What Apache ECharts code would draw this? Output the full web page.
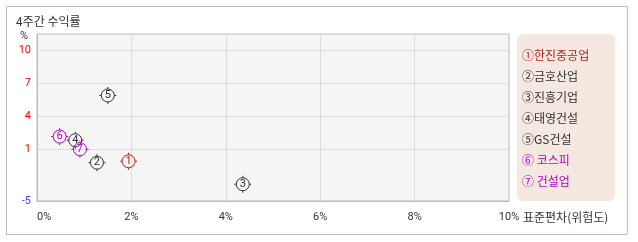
<!DOCTYPE html>
<html><head><meta charset="utf-8">
<script src="https://cdn.jsdelivr.net/npm/echarts@6/dist/echarts.min.js"></script>
<style>html,body{margin:0;padding:0;background:#fff}#c{width:638px;height:242px}</style>
</head><body><div id="c"></div>
<script>
const seriesNames = ['①한진중공업','②금호산업','③진흥기업','④태영건설','⑤GS건설','⑥ 코스피','⑦ 건설업'];
const markNums = ['1','2','3','4','5','6','7'];
const riskValues = [1.94, 1.27, 4.36, 0.81, 1.50, 0.48, 0.91];
const returnValues = [-0.12, -0.25, -2.21, 1.79, 5.85, 2.12, 0.97];
const seriesColors = ['#b0231c','#333333','#333333','#333333','#333333','#b400c8','#b400c8'];
const yMin = -3.73, yMax = 11.43;
const yTickValues = [yMin, 1, 4, 7, 10];
const yTickLabels = ['-5', '1', '4', '7', '10'];
const xTickLabels = ['0%','2%','4%','6%','8%','10%'];

const FONT = 'Roboto, "Noto Sans", sans-serif';
const KFONT = '"Noto Sans CJK KR", sans-serif';
const markerPath = 'path://M0,-6.5A6.5,6.5 0 1,1 0,6.5A6.5,6.5 0 1,1 0,-6.5Z M0,-8.5L0,-6.5 M0,6.5L0,8.5 M-8.5,0L-6.5,0 M6.5,0L8.5,0';

const chart = echarts.init(document.getElementById('c'), null, {renderer:'canvas'});
chart.setOption({
  animation: false,
  backgroundColor: '#fff',
  title: {text: '4주간 수익률', left: 16, top: 14, padding: 0,
    textStyle: {fontFamily: KFONT, fontSize: 12, fontWeight: 'normal', color: '#333', lineHeight: 14}},
  graphic: [{type:'rect', silent:true, shape:{x:6.5, y:6.5, width:621, height:228},
    style:{fill:'none', stroke:'#bdbdbd', lineWidth:1}, z:-1}],
  legend: {
    orient: 'vertical', left: 517, top: 34, icon: 'none', itemWidth: 0, itemHeight: 12, itemGap: 9,
    padding: [15, 26, 14, 0], backgroundColor: '#f5e8e1', borderRadius: 6,
    selectedMode: false,
    textStyle: {fontFamily: KFONT, fontSize: 12, lineHeight: 12},
    data: seriesNames.map((n, i) => ({name: n, textStyle: {color: seriesColors[i]}}))
  },
  grid: {left: 37, top: 34, width: 472, height: 167, show: true, backgroundColor: '#f5f5f5',
    borderColor: '#bbbbbb', borderWidth: 1, containLabel: false},
  xAxis: {
    type: 'value', min: 0, max: 10, interval: 2,
    axisLine: {show: true, onZero: false, lineStyle: {color: '#bbbbbb'}}, axisTick: {show: false},
    splitLine: {show: true, lineStyle: {color: '#dcdcdc'}},
    axisLabel: {margin: 11, fontFamily: FONT, fontSize: 11, color: '#333', alignMinLabel: 'left',
      formatter: (v) => xTickLabels[Math.round(v / 2)]},
    name: '표준편차(위험도)', nameLocation: 'end', nameGap: 14, nameMoveOverlap: false,
    nameTextStyle: {fontFamily: KFONT, fontSize: 12, color: '#333', verticalAlign: 'top', lineHeight: 32, align: 'left'}
  },
  yAxis: {
    type: 'value', min: yMin, max: yMax,
    axisLine: {show: true, onZero: false, lineStyle: {color: '#bbbbbb'}},
    axisTick: {show: false, customValues: [1, 4, 7, 10]},
    splitLine: {show: true, lineStyle: {color: '#dcdcdc'}},
    axisLabel: {customValues: yTickValues, margin: 6, fontFamily: FONT, fontSize: 11,
      formatter: (v) => yTickLabels[yTickValues.indexOf(v)],
      color: (v) => (v < 0 ? '#4444ff' : '#ff0000')},
    name: '%', nameLocation: 'end', nameGap: -2, nameMoveOverlap: false,
    nameTextStyle: {fontFamily: FONT, fontSize: 11, color: '#333', align: 'right', verticalAlign: 'middle', padding: [0, 9, 0, 0]}
  },
  series: seriesNames.map((n, i) => ({
    type: 'scatter', name: n, symbol: markerPath, symbolSize: 17,
    data: [[riskValues[i], returnValues[i]]],
    itemStyle: {color: 'rgba(0,0,0,0)', borderColor: seriesColors[i], borderWidth: 1, opacity: 1},
    label: {show: true, position: 'inside', formatter: markNums[i], color: seriesColors[i],
      fontFamily: FONT, fontSize: 11},
    emphasis: {disabled: true}, z: 2 + i
  }))
});
</script></body></html>
